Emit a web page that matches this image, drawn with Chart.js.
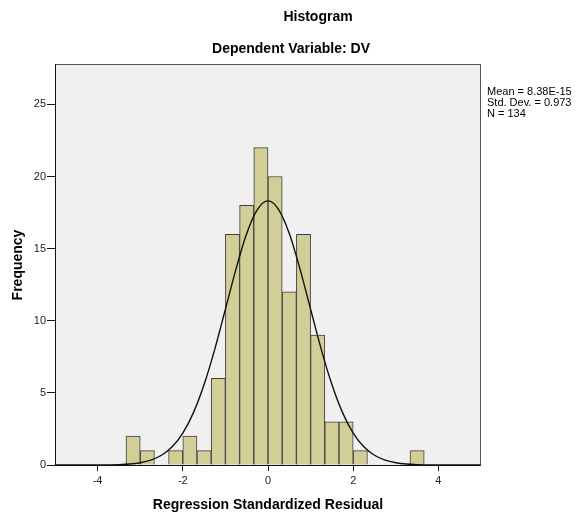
<!DOCTYPE html>
<html>
<head>
<meta charset="utf-8">
<script src="https://cdn.jsdelivr.net/npm/chart.js@4.4.1/dist/chart.umd.min.js"></script>
<style>
  body { margin: 0; background: #fff; }
  #wrap { width: 577px; height: 518px; position: relative; }
</style>
</head>
<body>
<div id="wrap"><canvas id="histChart" width="577" height="518"></canvas></div>
<script>
// bin centres (width 1/3) and counts
const binCenters = [-3.1667, -2.8333, -2.5, -2.1667, -1.8333, -1.5, -1.1667, -0.8333, -0.5, -0.1667,
                    0.1667, 0.5, 0.8333, 1.1667, 1.5, 1.8333, 2.1667, 3.5];
const binCounts = [2, 1, 0, 1, 2, 1, 6, 16, 18, 22, 20, 12, 16, 9, 3, 3, 1, 1];

// normal curve
const curveX = [-5, -4.5, -4.25, -4, -3.75, -3.5, -3.25, -3, -2.75, -2.5, -2.25, -2, -1.75, -1.5, -1.25, -1,
                -0.75, -0.5, -0.25, 0, 0.25, 0.5, 0.75, 1, 1.25, 1.5, 1.75, 2, 2.25, 2.5, 2.75, 3,
                3.25, 3.5, 3.75, 4, 4.25, 4.5, 5];
const curveY = [0, 0.0004, 0.001, 0.004, 0.011, 0.028, 0.069, 0.158, 0.337, 0.674, 1.26, 2.21, 3.63, 5.58, 8.02, 10.8,
                13.6, 16.05, 17.71, 18.31, 17.71, 16.05, 13.6, 10.8, 8.02, 5.58, 3.63, 2.21, 1.26, 0.674, 0.337, 0.158,
                0.069, 0.028, 0.011, 0.004, 0.001, 0.0004, 0];

const xTicks = [-4, -2, 0, 2, 4];
const yTicks = [0, 5, 10, 15, 20, 25];
const statLines = ['Mean = 8.38E-15', 'Std. Dev. = 0.973', 'N = 134'];

const fontFam = '"Liberation Sans", Arial, sans-serif';

const decorPlugin = {
    id: 'decor',
    beforeDatasetsDraw(chart) {
        const { ctx, chartArea: a } = chart;
        ctx.save();
        ctx.fillStyle = '#f0f0f0';
        ctx.fillRect(a.left, a.top, a.right - a.left, a.bottom - a.top);
        ctx.restore();
    },
    afterDraw(chart) {
        const { ctx, chartArea: a } = chart;
        ctx.save();
        // frame
        ctx.strokeStyle = '#555';
        ctx.lineWidth = 1;
        ctx.strokeRect(a.left + 0.5, a.top + 0.5, a.right - a.left - 1, a.bottom - a.top);
        ctx.strokeStyle = '#111';
        ctx.beginPath();
        ctx.moveTo(a.left + 0.5, a.top);
        ctx.lineTo(a.left + 0.5, a.bottom + 0.5);
        ctx.lineTo(a.right, a.bottom + 0.5);
        ctx.stroke();

        ctx.fillStyle = '#000';
        ctx.textAlign = 'center';
        ctx.textBaseline = 'middle';
        ctx.font = 'bold 14px ' + fontFam;
        ctx.fillText('Histogram', 318, 17);
        ctx.fillText('Dependent Variable: DV', 291, 49);
        ctx.fillText('Regression Standardized Residual', 268, 505);

        ctx.save();
        ctx.translate(18, 265);
        ctx.rotate(-Math.PI / 2);
        ctx.fillText('Frequency', 0, 0);
        ctx.restore();

        ctx.textAlign = 'left';
        ctx.font = '11px ' + fontFam;
        statLines.forEach((t, i) => ctx.fillText(t, 487, 92 + i * 11));
        ctx.restore();
    }
};

const ctx = document.getElementById('histChart').getContext('2d');
new Chart(ctx, {
    data: {
        datasets: [
            {
                type: 'line',
                data: curveX.map((x, i) => ({ x: x, y: curveY[i] })),
                borderColor: '#111',
                borderWidth: 1.4,
                pointRadius: 0,
                cubicInterpolationMode: 'monotone',
                order: 0
            },
            {
                type: 'bar',
                data: binCenters.map((x, i) => ({ x: x, y: binCounts[i] })),
                backgroundColor: '#d3ce98',
                borderColor: '#3f3f3f',
                borderWidth: 1,
                borderSkipped: 'bottom',
                barPercentage: 1,
                categoryPercentage: 1,
                order: 1
            }
        ]
    },
    options: {
        responsive: false,
        animation: false,
        layout: { padding: { top: 64, right: 96, left: 0, bottom: 0 } },
        plugins: { legend: { display: false }, tooltip: { enabled: false } },
        scales: {
            x: {
                type: 'linear',
                min: -5,
                max: 5,
                offset: false,
                afterBuildTicks: s => { s.ticks = xTicks.map(v => ({ value: v })); },
                afterFit: s => { s.height = 53; },
                grid: { display: true, offset: false, drawOnChartArea: false, drawTicks: true, tickLength: 6, color: '#111' },
                border: { display: false },
                ticks: { color: '#222', font: { family: fontFam, size: 11 }, padding: 3, maxRotation: 0 }
            },
            y: {
                min: 0,
                max: 27.8,
                afterBuildTicks: s => { s.ticks = yTicks.map(v => ({ value: v })); },
                afterFit: s => { s.width = 55; },
                grid: { display: true, drawOnChartArea: false, drawTicks: true, tickLength: 8, color: '#111' },
                border: { display: false },
                ticks: { color: '#222', font: { family: fontFam, size: 11 }, padding: 1 }
            }
        }
    },
    plugins: [decorPlugin]
});
</script>
</body>
</html>
